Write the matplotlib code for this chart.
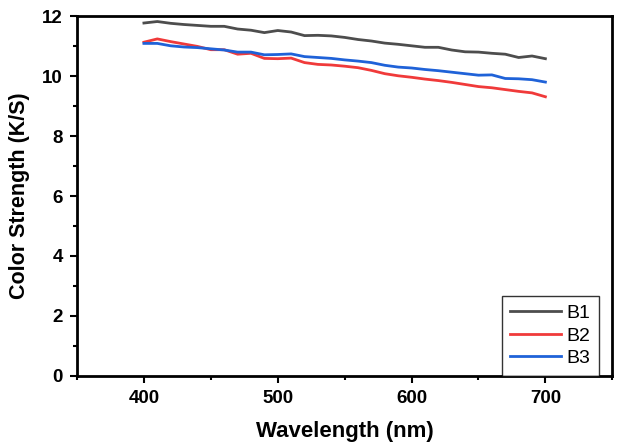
import matplotlib
matplotlib.use('Agg')
import matplotlib.pyplot as plt
from matplotlib.ticker import MultipleLocator

plt.rcParams['font.family'] = ['Liberation Sans', 'DejaVu Sans']

wavelength = list(range(400, 701, 10))

b1 = [11.77, 11.82, 11.76, 11.72, 11.69, 11.66, 11.66, 11.57, 11.53, 11.45,
      11.52, 11.47, 11.35, 11.36, 11.34, 11.29, 11.22, 11.17, 11.10, 11.06,
      11.01, 10.96, 10.96, 10.87, 10.81, 10.80, 10.76, 10.73, 10.62, 10.67,
      10.58]
b2 = [11.13, 11.24, 11.15, 11.07, 10.99, 10.88, 10.88, 10.73, 10.76, 10.59,
      10.58, 10.60, 10.45, 10.39, 10.37, 10.33, 10.28, 10.19, 10.08, 10.01,
      9.96, 9.90, 9.85, 9.79, 9.72, 9.65, 9.61, 9.55, 9.49, 9.44,
      9.31]
b3 = [11.09, 11.09, 11.01, 10.97, 10.95, 10.91, 10.87, 10.80, 10.80, 10.71,
      10.72, 10.74, 10.65, 10.62, 10.59, 10.54, 10.50, 10.45, 10.36, 10.30,
      10.27, 10.22, 10.18, 10.13, 10.08, 10.03, 10.04, 9.92, 9.91, 9.88,
      9.80]

series = [('B1', b1, '#4d4d4d'), ('B2', b2, '#f03a3a'), ('B3', b3, '#1f62d8')]

fig = plt.figure(figsize=(6.21, 4.48), dpi=100)
ax = fig.add_axes([0.124, 0.161, 0.862, 0.803])

for name, vals, col in series:
    ax.plot(wavelength, vals, color=col, lw=2, label=name)

ax.set_xlim(350, 750)
ax.set_ylim(0, 12)
ax.xaxis.set_major_locator(MultipleLocator(100))
ax.xaxis.set_minor_locator(MultipleLocator(50))
ax.yaxis.set_major_locator(MultipleLocator(2))
ax.yaxis.set_minor_locator(MultipleLocator(1))

for s in ax.spines.values():
    s.set_linewidth(2)
ax.tick_params(which='major', direction='out', length=5, width=1.5,
               labelsize=13.5, pad=5)
ax.tick_params(which='minor', direction='out', length=3, width=1.5)
for lab in ax.get_xticklabels() + ax.get_yticklabels():
    lab.set_fontweight('bold')

ax.set_xlabel('Wavelength (nm)', fontsize=16, fontweight='bold', labelpad=10)
ax.set_ylabel('Color Strength (K/S)', fontsize=15.5, fontweight='bold', labelpad=9)

leg = ax.legend(loc='lower right', fontsize=14, frameon=True, fancybox=False,
                borderaxespad=0.0, handlelength=2.6, handletextpad=0.3,
                labelspacing=0.25, borderpad=0.45, bbox_to_anchor=(0.976, 0.0))
leg.get_frame().set_edgecolor('black')
leg.get_frame().set_linewidth(1)

fig.savefig('out.png', dpi=100)
